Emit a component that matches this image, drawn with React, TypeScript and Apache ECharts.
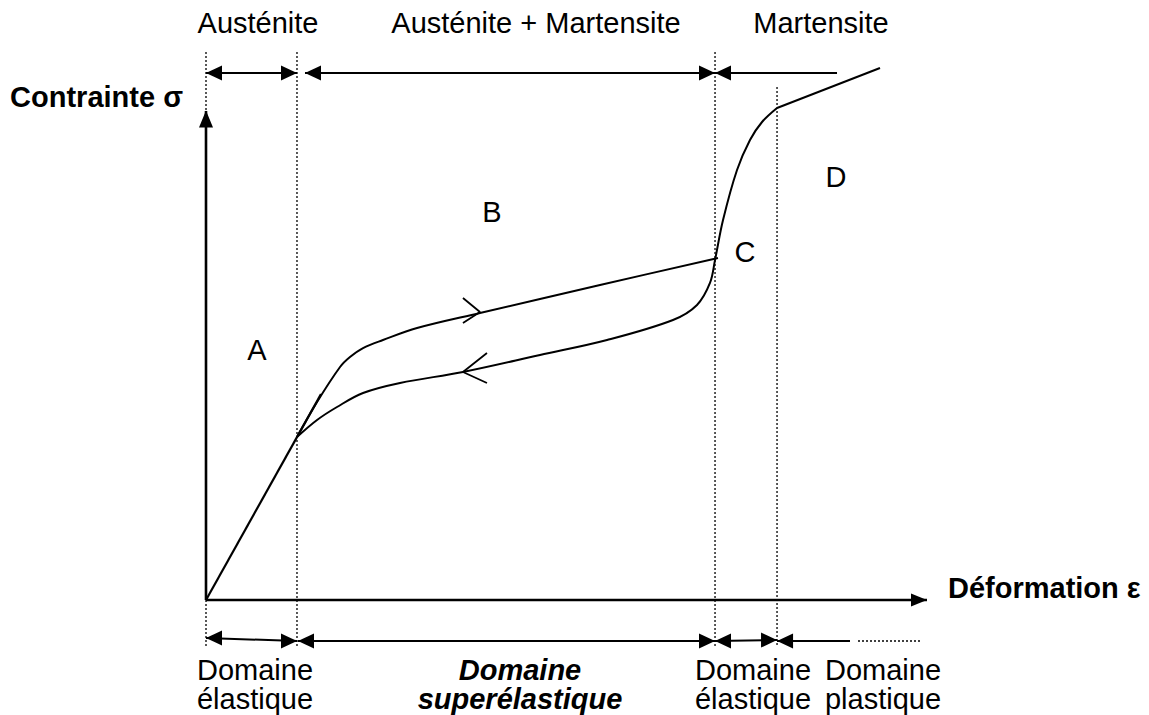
import React, { useEffect, useRef } from "react";
import * as echarts from "echarts";

// ---- Data (arbitrary strain / stress units) ----
const strainRange = [0, 100];
const stressRange = [0, 100];

const elasticLine = [[0, 0], [15.95, 42.1]];
const loadingCurve = [
  [12.62, 33.33], [15.4, 40.49], [18.59, 47.65], [19.97, 49.69], [21.78, 51.53],
  [24.55, 53.17], [29.27, 55.62], [38.0, 58.69], [54.65, 64.42], [71.01, 69.94],
];
const unloadingCurve = [
  [12.62, 33.33], [15.4, 36.81], [18.17, 39.47], [21.78, 42.33], [26.91, 44.38],
  [35.64, 46.63], [46.32, 50.1], [55.62, 53.17], [64.77, 57.26], [68.1, 60.33],
  [69.9, 64.83], [70.6, 69.53], [71.71, 77.71], [73.65, 87.93], [75.45, 94.07],
  [77.12, 97.75], [79.2, 100.61],
];
const plasticLine = [[79.2, 100.61], [93.48, 108.79]];
const loadChevron = [[35.64, 61.76], [38.0, 58.9], [35.64, 56.65]];
const unloadChevron = [[38.97, 50.51], [35.64, 46.63], [38.97, 44.38]];

// phase boundaries (strain) and their dotted guide extents (stress)
const boundaryX = [0, 12.62, 70.6, 79.2];
const boundaryTop = [112.07, 112.07, 112.07, 104.9];
const boundaryBottom = -9.61;

// top arrows (phases): [from, to, arrowStart, arrowEnd]
const topArrowY = 107.77;
const topArrows: [number, number, boolean, boolean][] = [
  [0, 12.62, true, true],
  [13.73, 70.6, true, true],
  [70.6, 87.52, true, false],
];
// bottom arrows (domains): [x1, y1, x2, y2, arrowStart, arrowEnd]
const bottomArrows: [number, number, number, number, boolean, boolean][] = [
  [0, -7.77, 12.62, -8.38, true, true],
  [12.76, -8.38, 70.6, -8.38, true, true],
  [70.6, -8.38, 79.2, -8.2, true, true],
  [79.2, -8.38, 89.32, -8.38, true, false],
];
const bottomDotted = [[90.43, -8.38], [99.03, -8.38]];

const topLabels = ["Austénite", "Austénite + Martensite", "Martensite"];
const regionLabels = ["A", "B", "C", "D"];
const axisNames = ["Déformation ε", "Contrainte σ"];

const FONT = '"Liberation Sans", Arial, Helvetica, sans-serif';

function arrowSeg(x1: number, y1: number, x2: number, y2: number, s: boolean, e: boolean) {
  const horiz = Math.abs(x2 - x1) > Math.abs(y2 - y1);
  const startItem: any = { value: [x1, y1], symbol: "none" };
  const endItem: any = { value: [x2, y2], symbol: "none" };
  if (s) {
    Object.assign(startItem, {
      symbol: "triangle",
      symbolSize: [15, 16],
      symbolRotate: horiz ? 90 : 180,
      symbolOffset: horiz ? [8, 0] : [0, -8],
    });
  }
  if (e) {
    Object.assign(endItem, {
      symbol: "triangle",
      symbolSize: [15, 16],
      symbolRotate: horiz ? -90 : 0,
      symbolOffset: horiz ? [-8, 0] : [0, 8],
    });
  }
  return {
    type: "line",
    data: [startItem, endItem],
    clip: false,
    silent: true,
    showSymbol: true,
    showAllSymbol: true,
    lineStyle: { color: "#000", width: 2 },
    itemStyle: { color: "#000", borderWidth: 0 },
  };
}

function curve(data: number[][], smooth: number | boolean, width = 2) {
  return {
    type: "line",
    data,
    smooth,
    clip: false,
    silent: true,
    symbol: "none",
    lineStyle: { color: "#000", width },
  };
}

export default function App() {
  const ref = useRef<HTMLDivElement>(null);
  useEffect(() => {
    if (!ref.current) return;
    const chart = echarts.init(ref.current, undefined, { renderer: "svg" });

    const series: any[] = [];
    // dotted boundaries
    boundaryX.forEach((x, i) => {
      series.push({
        type: "line",
        data: [[x, boundaryTop[i]], [x, boundaryBottom]],
        clip: false,
        silent: true,
        symbol: "none",
        lineStyle: { color: "#000", width: 1.3, type: [2, 2] },
      });
    });
    series.push({
      type: "line",
      data: bottomDotted,
      clip: false,
      silent: true,
      symbol: "none",
      lineStyle: { color: "#000", width: 1.3, type: [2, 2] },
    });
    // axes with arrows
    series.push({
      type: "line",
      data: [
        { value: [strainRange[0], 0], symbol: "none" },
        { value: [strainRange[1], 0], symbol: "triangle", symbolSize: [13, 16], symbolRotate: -90, symbolOffset: [-8, 0] },
      ],
      clip: false, silent: true, showAllSymbol: true,
      lineStyle: { color: "#000", width: 2.6 },
      itemStyle: { color: "#000", borderWidth: 0 },
    });
    series.push({
      type: "line",
      data: [
        { value: [0, stressRange[0]], symbol: "none" },
        { value: [0, stressRange[1]], symbol: "triangle", symbolSize: [14, 17], symbolRotate: 0, symbolOffset: [0, 8] },
      ],
      clip: false, silent: true, showAllSymbol: true,
      lineStyle: { color: "#000", width: 2.6 },
      itemStyle: { color: "#000", borderWidth: 0 },
    });
    // phase arrows
    topArrows.forEach(([a, b, s, e]) => series.push(arrowSeg(a, topArrowY, b, topArrowY, s, e)));
    bottomArrows.forEach(([x1, y1, x2, y2, s, e]) => series.push(arrowSeg(x1, y1, x2, y2, s, e)));
    // curves
    series.push(curve(elasticLine, false, 2.2));
    series.push(curve(loadingCurve, 0.35));
    series.push(curve(unloadingCurve, 0.35));
    series.push(curve(plasticLine, false));
    series.push(curve(loadChevron, false, 1.8));
    series.push(curve(unloadChevron, false, 1.8));

    const txt = (text: string, x: number, y: number, align: string, weight = "normal", style = "normal") => ({
      type: "text",
      x,
      y,
      silent: true,
      style: {
        text,
        fill: "#000",
        font: `${style} ${weight} 29px ${FONT}`,
        align,
        verticalAlign: "middle",
      },
    });

    const graphic = [
      txt(topLabels[0], 258, 23, "center"),
      txt(topLabels[1], 536, 23, "center"),
      txt(topLabels[2], 821, 23, "center"),
      txt(axisNames[1], 183, 97, "right", "bold"),
      txt(axisNames[0], 948, 588, "left", "bold"),
      txt(regionLabels[0], 257, 350, "center"),
      txt(regionLabels[1], 492, 212, "center"),
      txt(regionLabels[2], 745, 252, "center"),
      txt(regionLabels[3], 836, 177, "center"),
      txt("Domaine", 255, 670, "center"),
      txt("élastique", 255, 699, "center"),
      txt("Domaine", 520, 670, "center", "bold", "italic"),
      txt("superélastique", 520, 699, "center", "bold", "italic"),
      txt("Domaine", 753, 670, "center"),
      txt("élastique", 753, 699, "center"),
      txt("Domaine", 883, 670, "center"),
      txt("plastique", 883, 699, "center"),
    ];

    chart.setOption({
      animation: false,
      backgroundColor: "#fff",
      grid: { left: 206, right: 222, top: 111, bottom: 115 },
      xAxis: { type: "value", min: strainRange[0], max: strainRange[1], show: false },
      yAxis: { type: "value", min: stressRange[0], max: stressRange[1], show: false },
      series,
      graphic,
    });
    return () => chart.dispose();
  }, []);
  return (
    <div
      ref={ref}
      style={{ position: "fixed", left: 0, top: 0, width: 1149, height: 715, background: "#fff" }}
    />
  );
}
